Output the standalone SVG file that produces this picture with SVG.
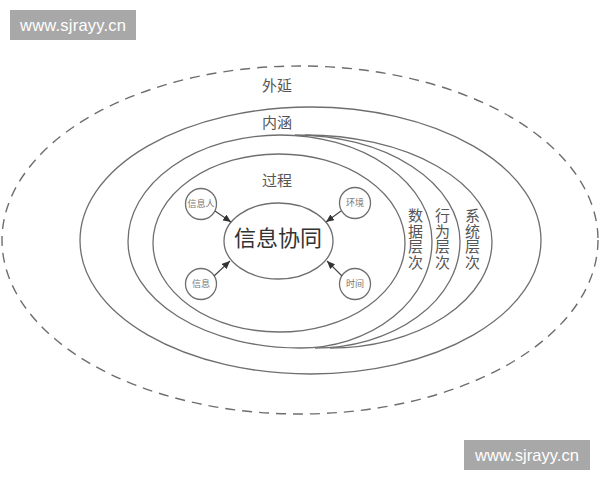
<svg xmlns="http://www.w3.org/2000/svg" width="600" height="480" viewBox="0 0 600 480">
<style>
.ln{fill:none;stroke:#6e6e6e;stroke-width:1.3}
.dash{fill:none;stroke:#6e6e6e;stroke-width:1.4;stroke-dasharray:10 7}
.lbl{font-family:"Liberation Serif","Noto Sans CJK SC",serif;fill:#555;font-size:15px;text-anchor:middle}
.big{font-family:"Noto Sans CJK SC",sans-serif;fill:#333;font-size:22px;text-anchor:middle}
.sm{font-family:"Liberation Serif","Noto Sans CJK SC",serif;fill:#777;font-size:9px;text-anchor:middle}
.wm{fill:#a8a8a8}
.wmt{font-family:"Liberation Sans",Arial,sans-serif;fill:#fff;font-size:16.5px}
.arr{stroke:#444;stroke-width:1.1;fill:none}
</style>
<defs>
<marker id="ah" markerUnits="userSpaceOnUse" markerWidth="9" markerHeight="7" refX="8" refY="3.5" orient="auto">
<path d="M0,0 L8,3.5 L0,7 Z" fill="#333"/>
</marker>
</defs>
<rect width="600" height="480" fill="#fff"/>
<g id="watermark-top"><rect class="wm" x="10" y="10" width="126" height="30"/><text class="wmt" x="20" y="31" textLength="106">www.sjrayy.cn</text></g>
<g id="watermark-bottom"><rect class="wm" x="464" y="440" width="126" height="30"/><text class="wmt" x="475" y="461" textLength="104">www.sjrayy.cn</text></g>
<g id="waiyan"><ellipse class="dash" cx="300" cy="240" rx="298" ry="174"/><text class="lbl" x="277" y="91">外延</text></g>
<g id="neihan"><ellipse class="ln" cx="310.5" cy="240.5" rx="230.5" ry="133.5"/><text class="lbl" x="277" y="128">内涵</text></g>
<g id="xitong"><path class="ln" d="M305,135 A187,106.5 0 0 1 492,241.5 A162,106.5 0 0 1 330,348"/><text class="lbl" x="472.5"><tspan x="472.5" y="221">系</tspan><tspan x="472.5" y="236.5">统</tspan><tspan x="472.5" y="252">层</tspan><tspan x="472.5" y="267.5">次</tspan></text></g>
<g id="xingwei"><path class="ln" d="M295,135 A165,106.5 0 0 1 460,241.5 A145,106.5 0 0 1 315,348"/><text class="lbl" x="442.5"><tspan x="442.5" y="221">行</tspan><tspan x="442.5" y="236.5">为</tspan><tspan x="442.5" y="252">层</tspan><tspan x="442.5" y="267.5">次</tspan></text></g>
<g id="shuju"><path class="ln" d="M128,241.5 A152,106.5 0 0 1 280,135 A152,106.5 0 0 1 432,241.5 A132,106.5 0 0 1 300,348 A172,106.5 0 0 1 128,241.5 Z"/><text class="lbl" x="415.5"><tspan x="415.5" y="221">数</tspan><tspan x="415.5" y="236.5">据</tspan><tspan x="415.5" y="252">层</tspan><tspan x="415.5" y="267.5">次</tspan></text></g>
<g id="guocheng"><ellipse class="ln" cx="279" cy="243" rx="126" ry="89"/><text class="lbl" x="277" y="186">过程</text></g>
<g id="xinxixietong"><ellipse class="ln" cx="278.5" cy="241" rx="54.5" ry="38"/><text class="big" x="278" y="246">信息协同</text></g>
<g id="xinxiren"><circle class="ln" cx="201" cy="204" r="15.5"/><text class="sm" x="201" y="207">信息人</text></g>
<g id="huanjing"><circle class="ln" cx="355" cy="203" r="15.5"/><text class="sm" x="355" y="206">环境</text></g>
<g id="xinxi"><circle class="ln" cx="201" cy="284" r="15.5"/><text class="sm" x="201" y="287">信息</text></g>
<g id="shijian"><circle class="ln" cx="355" cy="284" r="15.5"/><text class="sm" x="355" y="287">时间</text></g>
<g id="connectors">
<line class="arr" x1="215" y1="211" x2="231" y2="222" marker-end="url(#ah)"/>
<line class="arr" x1="341" y1="211" x2="326" y2="222" marker-end="url(#ah)"/>
<line class="arr" x1="214" y1="276" x2="230" y2="261" marker-end="url(#ah)"/>
<line class="arr" x1="342" y1="276" x2="327" y2="261" marker-end="url(#ah)"/>
</g>
</svg>
